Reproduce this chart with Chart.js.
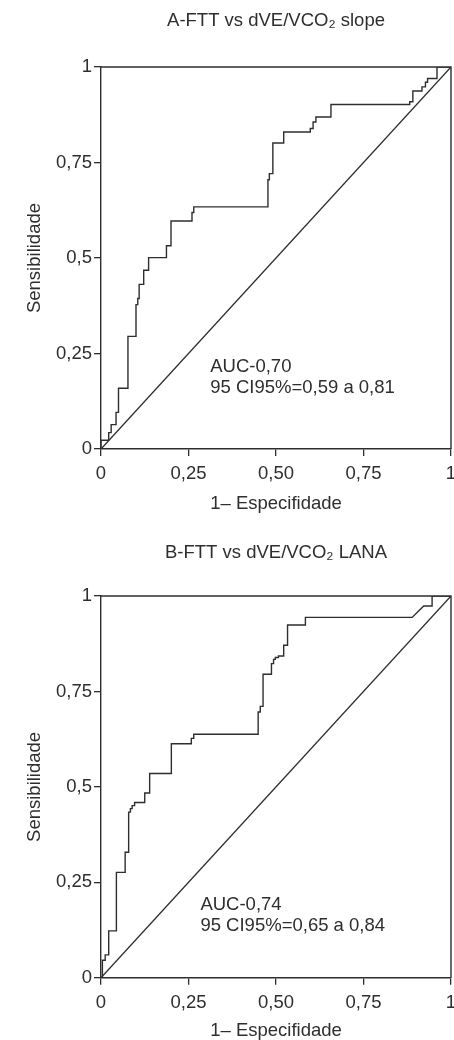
<!DOCTYPE html>
<html>
<head>
<meta charset="utf-8">
<script src="https://cdn.jsdelivr.net/npm/chart.js@4/dist/chart.umd.min.js"></script>
<style>
  html, body { margin: 0; padding: 0; background: #fff; overflow: hidden; }
  .box { position: absolute; left: 0; width: 454px; height: 520px; }
</style>
</head>
<body>
<div class="box" style="top:0"><canvas id="rocA"></canvas></div>
<div class="box" style="top:520px; height:521px"><canvas id="rocB"></canvas></div>
<script>
const FONT = "'Liberation Sans Narrow', 'Liberation Sans', Arial, sans-serif";
const FS = 18.5;
const INK = '#2e2e2e';

const tickValues = [0, 0.25, 0.5, 0.75, 1];
const xTickLabels = ['0', '0,25', '0,50', '0,75', '1'];
const yTickLabels = ['0', '0,25', '0,5', '0,75', '1'];

const titleA = 'A-FTT vs dVE/VCO\u2082 slope';
const titleB = 'B-FTT vs dVE/VCO\u2082 LANA';
const xTitle = '1\u2013 Especifidade';
const yTitle = 'Sensibilidade';

// curva ROC A (1-especificidade, sensibilidade), vertices da escada
const fprA = [0, 0, 0.022, 0.022, 0.029, 0.029, 0.043, 0.043, 0.050, 0.050,
  0.077, 0.077, 0.100, 0.100, 0.105, 0.105, 0.109, 0.109, 0.122, 0.122,
  0.136, 0.136, 0.187, 0.187, 0.200, 0.200, 0.260, 0.260, 0.265, 0.265,
  0.477, 0.477, 0.481, 0.481, 0.491, 0.491, 0.522, 0.522, 0.598, 0.598,
  0.606, 0.606, 0.614, 0.614, 0.657, 0.657, 0.882, 0.882, 0.891, 0.891,
  0.917, 0.917, 0.927, 0.927, 0.933, 0.933, 0.960, 0.960, 1];
const tprA = [0, 0.023, 0.023, 0.043, 0.043, 0.064, 0.064, 0.096, 0.096, 0.159,
  0.159, 0.295, 0.295, 0.378, 0.378, 0.394, 0.394, 0.431, 0.431, 0.468,
  0.468, 0.501, 0.501, 0.532, 0.532, 0.597, 0.597, 0.619, 0.619, 0.634,
  0.634, 0.705, 0.705, 0.721, 0.721, 0.801, 0.801, 0.830, 0.830, 0.839,
  0.839, 0.856, 0.856, 0.869, 0.869, 0.902, 0.902, 0.909, 0.909, 0.937,
  0.937, 0.948, 0.948, 0.960, 0.960, 0.970, 0.970, 1, 1];

// curva ROC B
const fprB = [0, 0.004, 0.004, 0.012, 0.012, 0.022, 0.022, 0.044, 0.044, 0.069,
  0.069, 0.079, 0.079, 0.084, 0.084, 0.089, 0.089, 0.096, 0.096, 0.125,
  0.125, 0.139, 0.139, 0.201, 0.201, 0.258, 0.258, 0.265, 0.265, 0.449,
  0.449, 0.455, 0.455, 0.463, 0.463, 0.487, 0.487, 0.493, 0.493, 0.498,
  0.498, 0.507, 0.507, 0.522, 0.522, 0.533, 0.533, 0.584, 0.584, 0.889,
  0.922, 0.946, 0.946, 1];
const tprB = [0, 0, 0.046, 0.046, 0.060, 0.060, 0.123, 0.123, 0.276, 0.276,
  0.329, 0.329, 0.434, 0.434, 0.443, 0.443, 0.451, 0.451, 0.459, 0.459,
  0.484, 0.484, 0.535, 0.535, 0.613, 0.613, 0.627, 0.627, 0.638, 0.638,
  0.696, 0.696, 0.711, 0.711, 0.795, 0.795, 0.823, 0.823, 0.834, 0.834,
  0.839, 0.839, 0.843, 0.843, 0.871, 0.871, 0.924, 0.924, 0.944, 0.944,
  0.974, 0.974, 1, 1];

// linha de referencia
const refX = [0, 1];
const refY = [0, 1];

const aucA = ['AUC-0,70', '95 CI95%=0,59 a 0,81'];
const aucB = ['AUC-0,74', '95 CI95%=0,65 a 0,84'];

const toPoints = (xs, ys) => xs.map((v, i) => ({ x: v, y: ys[i] }));

// moldura superior e direita
const frame = {
  id: 'frame',
  afterDraw(chart) {
    const { ctx, chartArea: a } = chart;
    ctx.save();
    ctx.strokeStyle = INK;
    ctx.lineWidth = 1.4;
    ctx.beginPath();
    ctx.moveTo(a.left, a.top);
    ctx.lineTo(a.right, a.top);
    ctx.lineTo(a.right, a.bottom);
    ctx.stroke();
    ctx.restore();
  }
};

const aucLabel = {
  id: 'aucLabel',
  afterDatasetsDraw(chart, args, o) {
    const { ctx, scales } = chart;
    ctx.save();
    ctx.font = FS + 'px ' + FONT;
    ctx.fillStyle = INK;
    ctx.textBaseline = 'middle';
    ctx.textAlign = 'left';
    const px = scales.x.getPixelForValue(o.x);
    const py = scales.y.getPixelForValue(o.y);
    o.lines.forEach((t, i) => ctx.fillText(t, px, py + i * 21.7));
    ctx.restore();
  }
};

function rocChart(id, cfg) {
  const axisCommon = {
    type: 'linear',
    min: 0,
    max: 1,
    afterBuildTicks: s => { s.ticks = tickValues.map(v => ({ value: v })); },
    grid: { drawOnChartArea: false, drawTicks: true, tickLength: 7, color: INK, lineWidth: 1.3 },
    border: { display: true, color: INK, width: 1.4 }
  };
  return new Chart(document.getElementById(id), {
    type: 'scatter',
    data: {
      datasets: [{
        data: toPoints(cfg.fpr, cfg.tpr),
        showLine: true,
        borderColor: INK,
        borderWidth: 1.4,
        pointRadius: 0,
        tension: 0
      }, {
        data: toPoints(refX, refY),
        showLine: true,
        borderColor: INK,
        borderWidth: 1.3,
        pointRadius: 0
      }]
    },
    options: {
      responsive: true,
      maintainAspectRatio: false,
      animation: false,
      devicePixelRatio: 1,
      layout: { padding: { left: 0, right: 3, top: 0, bottom: cfg.bottomPad } },
      plugins: {
        legend: { display: false },
        tooltip: { enabled: false },
        title: {
          display: true,
          text: cfg.title,
          fullSize: false,
          color: INK,
          font: { family: FONT, size: FS, weight: 'normal' },
          padding: { top: cfg.titleTop, bottom: cfg.titleBottom }
        },
        aucLabel: { lines: cfg.auc, x: cfg.aucX, y: cfg.aucY }
      },
      scales: {
        x: Object.assign({}, axisCommon, {
          position: 'bottom',
          ticks: {
            color: INK,
            padding: 7,
            maxRotation: 0,
            font: { family: FONT, size: FS },
            callback: (v, i) => xTickLabels[i]
          },
          title: {
            display: true,
            text: xTitle,
            color: INK,
            font: { family: FONT, size: FS, lineHeight: 1 },
            padding: { top: cfg.xTitleTop, bottom: 0 }
          },
          afterFit: s => { s.paddingRight = 3; s.paddingLeft = 0; }
        }),
        y: Object.assign({}, axisCommon, {
          position: 'left',
          ticks: {
            color: INK,
            padding: 2,
            font: { family: FONT, size: FS },
            callback: (v, i) => yTickLabels[i]
          },
          title: {
            display: true,
            text: yTitle,
            color: INK,
            font: { family: FONT, size: FS, lineHeight: 1 },
            padding: { top: 26, bottom: 0 }
          },
          afterFit: s => { s.width = 101; }
        })
      }
    },
    plugins: [frame, aucLabel]
  });
}

rocChart('rocA', {
  title: titleA, fpr: fprA, tpr: tprA, auc: aucA,
  aucX: 0.312, aucY: 0.216,
  titleTop: 10, titleBottom: 34.8, xTitleTop: 2, bottomPad: 7.25
});

rocChart('rocB', {
  title: titleB, fpr: fprB, tpr: tprB, auc: aucB,
  aucX: 0.284, aucY: 0.192,
  titleTop: 22, titleBottom: 31.8, xTitleTop: 0.5, bottomPad: 1
});
</script>
</body>
</html>
